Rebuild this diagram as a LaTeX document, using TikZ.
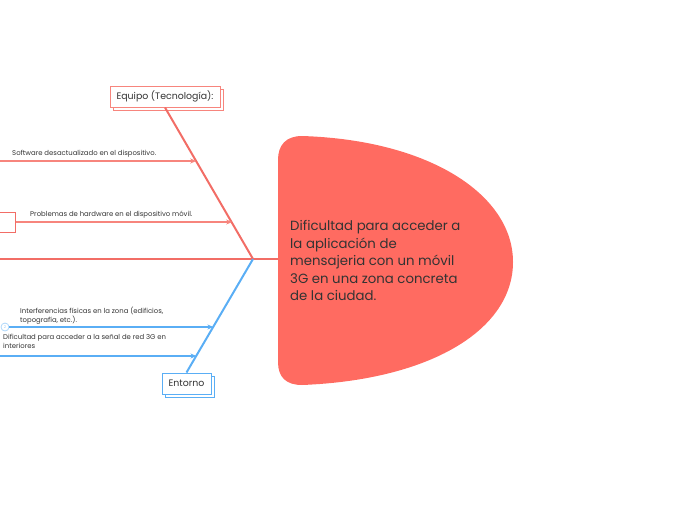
\documentclass[tikz,border=0pt]{standalone}
\usepackage{fontspec}
\setmainfont{Poppins}
\usetikzlibrary{arrows.meta,calc,shadows}
\definecolor{redA}{HTML}{F26D66}
\definecolor{redL}{HTML}{F7857D}
\definecolor{blueA}{HTML}{5AAEF5}
\definecolor{headF}{HTML}{FF6B61}
\definecolor{txt}{HTML}{333333}
\begin{document}
\begin{tikzpicture}[x=1pt,y=-1pt,
  catbox/.style={draw=#1, line width=1pt, fill=white, inner sep=0pt, minimum height=21pt,
     copy shadow={shadow xshift=3pt, shadow yshift=-3pt}, font=\fontsize{9.4}{11}\selectfont, text=txt},
  subred/.style={draw=redL, line width=1.5pt, -{Stealth[length=6pt,width=5pt]}},
  subblue/.style={draw=blueA, line width=1.5pt, -{Stealth[length=6pt,width=5pt]}},
  lbl/.style={font=\fontsize{6.9}{9}\selectfont, text=txt, inner sep=0pt, align=left}]
\useasboundingbox (0,0) rectangle (696,520);
% head
\path[fill=headF] (278,160) -- (278,362)
  .. controls (278,377) and (286,385) .. (302,385)
  .. controls (430,380) and (513,330) .. (513,262)
  .. controls (513,195) and (430,140) .. (302,136)
  .. controls (286,136) and (278,145) .. (278,160) -- cycle;
\node[anchor=north west, align=left, inner sep=0pt, text=txt,
  font=\fontsize{13.3}{17.4}\selectfont] (head) at (290,220.5)
  {Dificultad para acceder a\\la aplicación de\\mensajeria con un móvil\\3G en una zona concreta\\de la ciudad.};
\coordinate (spL) at (0,259);
\coordinate (headW) at (278,259);
\coordinate (J) at (253,259);
\draw[redA, line width=2.5pt] (spL) -- (headW);
% category boxes
\node[catbox=redL, minimum width=110pt] (eq) at (165,96.5) {Equipo (Tecnología):};
\node[catbox=blueA, minimum width=49pt] (ent) at (186.5,383.5) {Entorno};
\draw[redA, line width=2pt] (eq.south) -- (J);
\draw[blueA, line width=2pt] (J) -- (ent.north);
% red sub-branches
\coordinate (a1) at ($(eq.south)!0.355!(J)$);
\coordinate (a2) at ($(eq.south)!0.763!(J)$);
\coordinate (s1) at (0,161);
\node[draw=redA, line width=1pt, minimum width=25pt, minimum height=20pt, inner sep=0pt] (hbox) at (2.5,222) {};
\draw[subred] (s1) -- (s1 -| a1);
\draw[subred] (hbox.east) -- (hbox.east -| a2);
\node[lbl, anchor=base west] (t1) at (12,155.5) {Software desactualizado en el dispositivo.};
\node[lbl, anchor=base west] (t2) at (30,216.5) {Problemas de hardware en el dispositivo móvil.};
% blue sub-branches
\coordinate (b1) at ($(J)!0.596!(ent.north)$);
\coordinate (b2) at ($(J)!0.851!(ent.north)$);
\node[circle, draw=blueA!50, line width=0.8pt, minimum size=8pt, inner sep=0pt, text=blueA!60, font=\fontsize{4}{4}\selectfont] (c2) at (5,327) {2};
\coordinate (s4) at (0,356);
\draw[subblue] (c2.east) -- (c2.east -| b1);
\draw[subblue] (s4) -- (s4 -| b2);
\node[lbl, anchor=north west] (t3) at (20,306.5) {Interferencias físicas en la zona (edificios,\\topografía, etc.).};
\node[lbl, anchor=north west] (t4) at (3,334.5) {Dificultad para acceder a la señal de red 3G en\\interiores};
\end{tikzpicture}
\end{document}
